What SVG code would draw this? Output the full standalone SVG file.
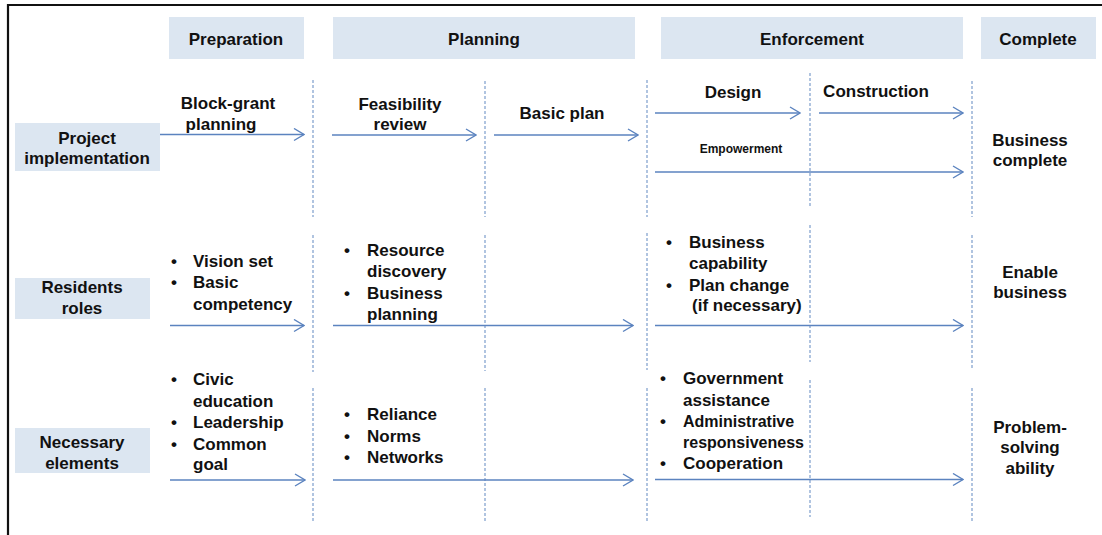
<svg xmlns="http://www.w3.org/2000/svg" width="1102" height="535" viewBox="0 0 1102 535">
<defs>
<style>
text{font-family:"Liberation Sans",Arial,sans-serif;font-weight:bold;font-size:17px;fill:#111}
.c{text-anchor:middle}
.sm{font-size:12px}
.md{font-size:16px}
.box{fill:#dce6f1}
.dash{stroke:#7c9dcc;stroke-width:1.2;stroke-dasharray:3 2;fill:none}
.arr{stroke:#5b83bf;stroke-width:1.5;fill:none;marker-end:url(#ah)}
</style>
<marker id="ah" markerWidth="12" markerHeight="14" refX="11" refY="7" orient="auto" markerUnits="userSpaceOnUse">
<path d="M1,1 L11,7 L1,13" fill="none" stroke="#5b83bf" stroke-width="1.4"/>
</marker>
</defs>
<rect width="1102" height="535" fill="#fff"/>
<g id="frame" stroke="#111" stroke-width="2.2" fill="none">
<path d="M8,535 V5 H1102"/>
</g>
<g id="headers">
<g id="h-preparation"><rect class="box" x="169" y="17" width="135" height="42"/><text class="c" x="236" y="45">Preparation</text></g>
<g id="h-planning"><rect class="box" x="333" y="17" width="302" height="42"/><text class="c" x="484" y="45">Planning</text></g>
<g id="h-enforcement"><rect class="box" x="661" y="17" width="302" height="42"/><text class="c" x="812" y="45">Enforcement</text></g>
<g id="h-complete"><rect class="box" x="981" y="17" width="115" height="42"/><text class="c" x="1038" y="45">Complete</text></g>
</g>
<g id="rows">
<g id="r-project"><rect class="box" x="15" y="123" width="145" height="48"/><text class="c" x="87" y="144">Project</text><text class="c" x="87" y="164">implementation</text></g>
<g id="r-residents"><rect class="box" x="15" y="278" width="135" height="41"/><text class="c" x="82" y="293">Residents</text><text class="c" x="82" y="314">roles</text></g>
<g id="r-necessary"><rect class="box" x="15" y="428" width="135" height="45"/><text class="c" x="82" y="448">Necessary</text><text class="c" x="82" y="469">elements</text></g>
</g>
<g id="connectors">
<g id="dividers">
<path class="dash" d="M313,80V217M313,235V372M313,388V523"/>
<path class="dash" d="M485,81V217M485,235V371M485,388V523"/>
<path class="dash" d="M647,80V217M647,233V370M647,388V523"/>
<path class="dash" d="M810,73V208M810,225V362M810,380V517"/>
<path class="dash" d="M972,81V217M972,235V369M972,388V523"/>
</g>
<path class="arr" d="M160,134.5H304"/>
<path class="arr" d="M332,135H476"/>
<path class="arr" d="M494,135H638"/>
<path class="arr" d="M655,113H800"/>
<path class="arr" d="M819,113H963"/>
<path class="arr" d="M655,172H963"/>
<path class="arr" d="M170,325.5H304"/>
<path class="arr" d="M333,325.5H633"/>
<path class="arr" d="M655,325.5H963"/>
<path class="arr" d="M170,480H305"/>
<path class="arr" d="M333,480H633"/>
<path class="arr" d="M655,479.5H963"/>
</g>
<g id="n-blockgrant"><text class="c" x="228" y="109">Block-grant</text><text class="c" x="221" y="130">planning</text></g>
<g id="n-feasibility"><text class="c" x="400" y="110">Feasibility</text><text class="c" x="400" y="130">review</text></g>
<g id="n-basicplan"><text class="c" x="562" y="119">Basic plan</text></g>
<g id="n-design"><text class="c" x="733" y="98">Design</text></g>
<g id="n-construction"><text class="c" x="876" y="97">Construction</text></g>
<g id="n-empowerment"><text class="c sm" x="741" y="153">Empowerment</text></g>
<g id="n-business-complete"><text class="c" x="1030" y="146">Business</text><text class="c" x="1030" y="166">complete</text></g>
<g id="n-residents-prep">
<text x="171" y="267">•</text><text x="193" y="267">Vision set</text>
<text x="171" y="288">•</text><text x="193" y="288">Basic</text>
<text x="193" y="310">competency</text>
</g>
<g id="n-residents-plan">
<text x="344" y="256">•</text><text x="367" y="256">Resource</text>
<text x="367" y="277">discovery</text>
<text x="344" y="299">•</text><text x="367" y="299">Business</text>
<text x="367" y="320">planning</text>
</g>
<g id="n-residents-enf">
<text x="666" y="248">•</text><text x="689" y="248">Business</text>
<text x="689" y="269">capability</text>
<text x="666" y="291">•</text><text x="689" y="291">Plan change</text>
<text x="692" y="311">(if necessary)</text>
</g>
<g id="n-enable"><text class="c" x="1030" y="278">Enable</text><text class="c" x="1030" y="298">business</text></g>
<g id="n-necessary-prep">
<text x="171" y="385">•</text><text x="193" y="385">Civic</text>
<text x="193" y="407">education</text>
<text x="171" y="428">•</text><text x="193" y="428">Leadership</text>
<text x="171" y="450">•</text><text x="193" y="450">Common</text>
<text x="193" y="470">goal</text>
</g>
<g id="n-necessary-plan">
<text x="344" y="420">•</text><text x="367" y="420">Reliance</text>
<text x="344" y="442">•</text><text x="367" y="442">Norms</text>
<text x="344" y="463">•</text><text x="367" y="463">Networks</text>
</g>
<g id="n-necessary-enf">
<text x="660" y="384">•</text><text x="683" y="384">Government</text>
<text x="683" y="406">assistance</text>
<text x="660" y="427">•</text><text class="md" x="683" y="427">Administrative</text>
<text class="md" x="683" y="448">responsiveness</text>
<text x="660" y="469">•</text><text x="683" y="469">Cooperation</text>
</g>
<g id="n-problem"><text class="c" x="1030" y="433">Problem-</text><text class="c" x="1030" y="453">solving</text><text class="c" x="1030" y="474">ability</text></g>
</svg>
